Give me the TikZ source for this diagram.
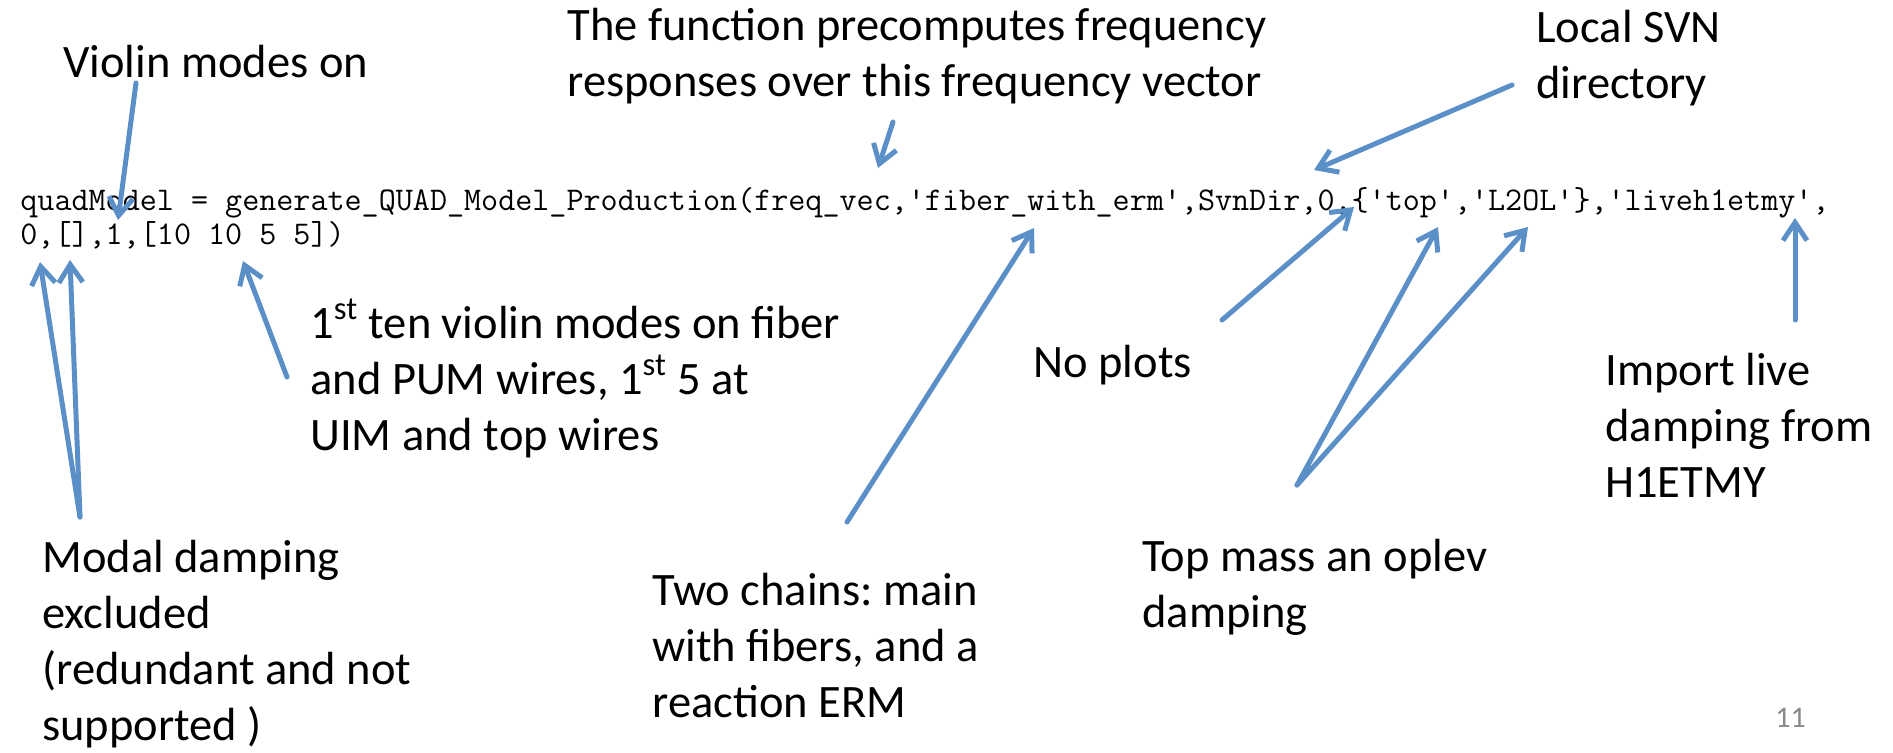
\documentclass[tikz,border=0pt]{standalone}
\usepackage{fontspec}
\setmainfont{Carlito}
\usetikzlibrary{arrows.meta}
\definecolor{callblue}{RGB}{90,143,199}
\definecolor{pagegray}{RGB}{137,137,137}
\frenchspacing

\begin{document}
\begin{tikzpicture}[x=0.5pt,y=-0.5pt,
    >={Straight Barb[length=9pt,width=12pt]},
    lbl/.style={anchor=base west,inner sep=0pt,align=left,
      font=\fontsize{23.25}{28}\selectfont},
    pointer/.style={->,draw=callblue,line width=2.5pt,line cap=round,line join=round}]
    \useasboundingbox (0,0) rectangle (1893,752);
    % the call (base = last line)
    \node[anchor=base west,inner sep=0pt,align=left,
      font=\ttfamily\fontsize{16.57}{17}\selectfont] (call) at (20,244)
      {quadModel = generate\_QUAD\_Model\_Production(freq\_vec,'fiber\_with\_erm',SvnDir,0,\{'top','L2OL'\},'liveh1etmy',\\0,[],1,[10 10 5 5])};
    % labels, placed by the baseline of their last line
    \node[lbl] (violin) at (63,77) {Violin modes on};
    \node[lbl] (precomp) at (567,96) {The function precomputes frequency\\responses over this frequency vector};
    \node[lbl] (svn) at (1536,98) {Local SVN\\directory};
    \node[lbl] (tenmodes) at (310,450) {1\textsuperscript{st} ten violin modes on fiber\\and PUM wires, 1\textsuperscript{st} 5 at\\UIM and top wires};
    \node[lbl] (noplots) at (1033,377) {No plots};
    \node[lbl] (live) at (1605,497) {Import live\\damping from\\H1ETMY};
    \node[lbl] (topmass) at (1142,627) {Top mass an oplev\\damping};
    \node[lbl] (chains) at (652,717) {Two chains: main\\with fibers, and a\\reaction ERM};
    \node[lbl] (modal) at (42,740) {Modal damping\\excluded\\(redundant and not\\supported )};
    \node[anchor=base west,inner sep=0pt,text=pagegray,font=\fontsize{15}{18}\selectfont] (page) at (1775,727) {11};
    % arrow ends
    \coordinate (violin-t) at (136,83);   \coordinate (violin-h) at (118,220);
    \coordinate (freq-t) at (893,122);    \coordinate (freq-h) at (878,168);
    \coordinate (svn-t) at (1512,85);     \coordinate (svn-h) at (1314,170);
    \coordinate (modal-t) at (80,517);    \coordinate (zero-h) at (40,262);
    \coordinate (empty-h) at (70,260);
    \coordinate (ten-t) at (287,377);     \coordinate (ten-h) at (243,261);
    \coordinate (chains-t) at (847,522);  \coordinate (fiber-h) at (1034,228);
    \coordinate (plots-t) at (1222,320);  \coordinate (plots-h) at (1354,207);
    \coordinate (top-t) at (1297,485);    \coordinate (top-h) at (1438,227);
    \coordinate (oplev-h) at (1528,227);
    \coordinate (live-t) at (1795,320);   \coordinate (live-h) at (1795,218);
    % pointers
    \draw[pointer] (violin-t) -- (violin-h);
    \draw[pointer] (freq-t) -- (freq-h);
    \draw[pointer] (svn-t) -- (svn-h);
    \foreach \h in {zero-h,empty-h}{\draw[pointer] (modal-t) -- (\h);}
    \draw[pointer] (ten-t) -- (ten-h);
    \draw[pointer] (chains-t) -- (fiber-h);
    \draw[pointer] (plots-t) -- (plots-h);
    \foreach \h in {top-h,oplev-h}{\draw[pointer] (top-t) -- (\h);}
    \draw[pointer] (live-t) -- (live-h);
\end{tikzpicture}
\end{document}
